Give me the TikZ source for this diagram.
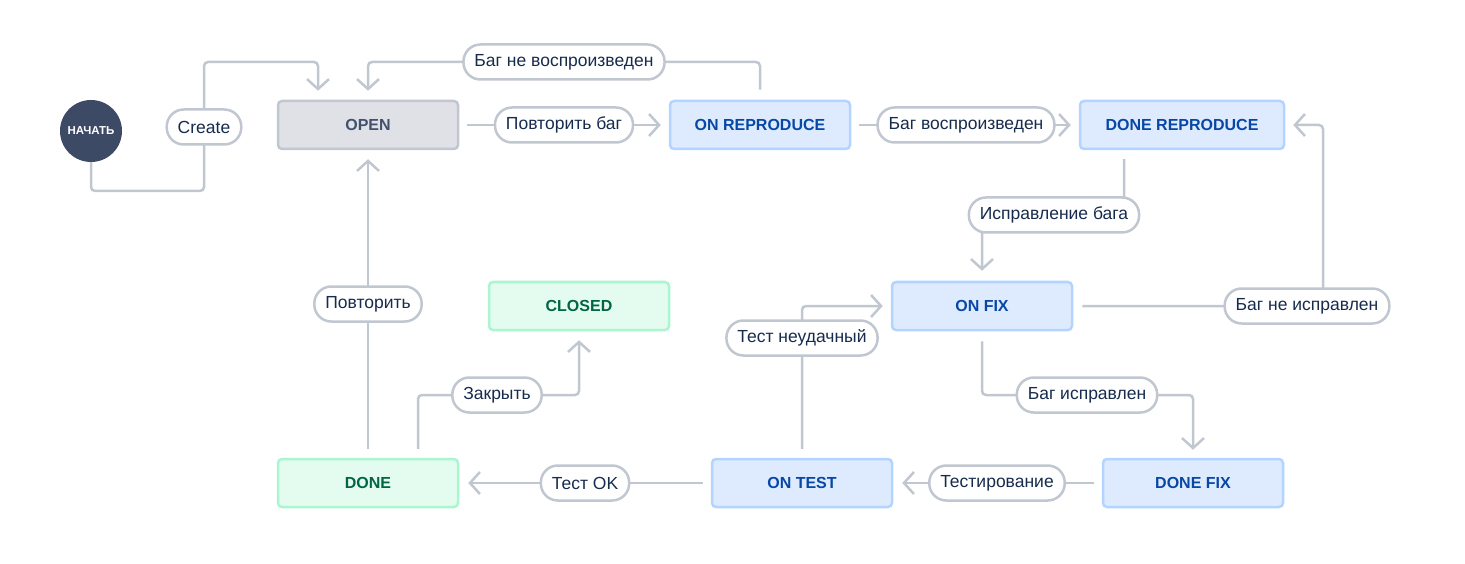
\documentclass[tikz,border=0pt]{standalone}
\usepackage{fontspec}
\setmainfont{Liberation Sans}
\usetikzlibrary{arrows.meta}

\definecolor{lineGray}{HTML}{C1C7D0}
\definecolor{openFill}{HTML}{DFE1E6}
\definecolor{openText}{HTML}{42526E}
\definecolor{blueFill}{HTML}{DEEBFF}
\definecolor{blueLine}{HTML}{B3D4FF}
\definecolor{blueText}{HTML}{0747A6}
\definecolor{greenFill}{HTML}{E3FCEF}
\definecolor{greenLine}{HTML}{ABF5D1}
\definecolor{greenText}{HTML}{006644}
\definecolor{startFill}{HTML}{3D4A66}
\definecolor{labelText}{HTML}{172B4D}

\tikzset{
  state/.style={draw, line width=2.5pt, rounded corners=4pt,
    minimum width=180pt, minimum height=48pt,
    font=\fontsize{16}{18}\selectfont\bfseries},
  grayState/.style={state, fill=openFill, draw=lineGray, text=openText},
  blueState/.style={state, fill=blueFill, draw=blueLine, text=blueText},
  greenState/.style={state, fill=greenFill, draw=greenLine, text=greenText},
  lbl/.style={draw=lineGray, fill=white, line width=2.5pt, rounded corners=17pt,
    minimum height=35pt, inner xsep=11pt, text=labelText,
    font=\fontsize{17.5}{20}\selectfont},
  conn/.style={draw=lineGray, line width=2.5pt, rounded corners=4pt,
    -{Straight Barb[length=10pt,width=22pt]}}
}

\begin{document}
\begin{tikzpicture}[x=1pt,y=-1pt]
    \useasboundingbox (0,0) rectangle (1465,564);

    % Start
    \node[circle, fill=startFill, text=white, minimum size=62pt, inner sep=0pt,
      font=\fontsize{11.5}{13}\selectfont\bfseries] (start) at (91,131) {НАЧАТЬ};

    % States
    \node[grayState] (open) at (368,125) {OPEN};
    \node[blueState] (onrepro) at (760,125) {ON REPRODUCE};
    \node[blueState, minimum width=204pt] (donerepro) at (1182,125) {DONE REPRODUCE};
    \node[blueState] (onfix) at (982,306) {ON FIX};
    \node[greenState] (closed) at (579,306) {CLOSED};
    \node[greenState] (done) at (368,483) {DONE};
    \node[blueState] (ontest) at (802,483) {ON TEST};
    \node[blueState] (donefix) at (1193,483) {DONE FIX};

    % Connections
    \draw[conn] (start.south) -- (91,191) -| (204,62) -| ([xshift=-50pt,yshift=9pt]open.north);
    \draw[conn] ([yshift=10pt]onrepro.north) |- (368,62) -- ([yshift=9pt]open.north);
    \draw[conn, shorten <=8pt, shorten >=8pt] (open.east) -- (onrepro.west);
    \draw[conn, shorten <=8pt, shorten >=8pt] (onrepro.east) -- (donerepro.west);
    \draw[conn] ([xshift=-58pt,yshift=-9pt]donerepro.south) |- (982,215) -- ([yshift=10pt]onfix.north);
    \draw[conn] ([xshift=9pt]onfix.east) -- (1323,306) |- ([xshift=8pt]donerepro.east);
    \draw[conn] ([yshift=-10pt]onfix.south) |- (1193,395) -- ([yshift=8pt]donefix.north);
    \draw[conn, shorten <=8pt, shorten >=9pt] (donefix.west) -- (ontest.east);
    \draw[conn] ([yshift=9pt]ontest.north) |- ([xshift=-8pt]onfix.west);
    \draw[conn, shorten <=8pt, shorten >=9pt] (ontest.west) -- (done.east);
    \draw[conn] ([xshift=50pt,yshift=9pt]done.north) |- (579,395) -- ([yshift=-9pt]closed.south);
    \draw[conn] ([yshift=9pt]done.north) -- ([yshift=-9pt]open.south);

    % Labels
    \node[lbl] (lcreate) at (204,127) {Create};
    \node[lbl] (lnotrepro) at (564,62) {Баг не воспроизведен};
    \node[lbl] (lrepeatbug) at (564,125) {Повторить баг};
    \node[lbl] (lrepro) at (966,125) {Баг воспроизведен};
    \node[lbl] (lfixing) at (1054,215) {Исправление бага};
    \node[lbl] (lnotfixed) at (1307,306) {Баг не исправлен};
    \node[lbl] (lfailed) at (802,338) {Тест неудачный};
    \node[lbl] (lfixed) at (1087,395) {Баг исправлен};
    \node[lbl] (ltesting) at (997,483) {Тестирование};
    \node[lbl] (ltestok) at (585,483) {Тест OK};
    \node[lbl] (lclose) at (497,395) {Закрыть};
    \node[lbl] (lrepeat) at (368,304) {Повторить};
\end{tikzpicture}
\end{document}
